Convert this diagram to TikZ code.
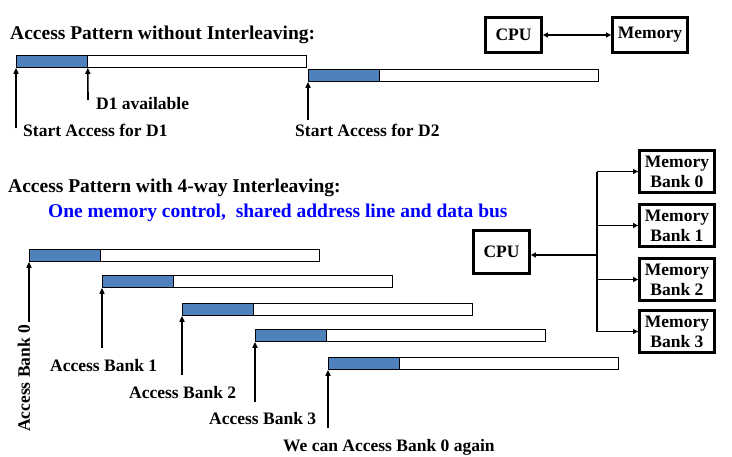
\documentclass[tikz,border=0pt]{standalone}
\usepackage{fontspec}
\setmainfont{Liberation Serif}
\usetikzlibrary{arrows.meta,positioning}
\definecolor{barblue}{RGB}{79,129,189}
\definecolor{subblue}{RGB}{0,0,255}

\tikzset{
  bar/.style={draw, line width=0.8pt, fill=white, inner sep=0pt,
    minimum width=290pt, minimum height=12pt, anchor=north west},
  busy/.style={draw, line width=0.8pt, fill=barblue, inner sep=0pt,
    minimum width=71pt, minimum height=12pt, anchor=north west},
  lbl/.style={inner sep=0pt, anchor=base west,
    font=\fontsize{17.5}{20}\selectfont\bfseries},
  head/.style={inner sep=0pt, anchor=base west,
    font=\fontsize{19.5}{22}\selectfont\bfseries},
  box/.style={draw, line width=2.8pt, inner sep=0pt, align=center,
    font=\fontsize{17.5}{20}\selectfont\bfseries},
  up/.style={-{Triangle[length=6pt,width=5pt]}, line width=1.6pt},
  link/.style={line width=1.4pt},
  tip/.style={-{Triangle[length=5pt,width=5pt]}},
}

\begin{document}
\begin{tikzpicture}[x=1pt,y=-1pt]
  \useasboundingbox (0,0) rectangle (732,456);

  % Without interleaving
  \node[head] (h1) at (10,39) {Access Pattern without Interleaving:};
  \node[bar] (a1) at (16,55) {};
  \node[busy] (ab1) at (a1.north west) {};
  \node[bar] (a2) at (308,69) {};
  \node[busy] (ab2) at (a2.north west) {};

  \coordinate (s1) at (16,128);
  \coordinate (s2) at (88,100);
  \coordinate (s3) at (308,120);
  \draw[up] (s1) -- (a1.south west);
  \draw[up] (s2) -- (ab1.south east);
  \draw[up] (s3) -- (a2.south west);
  \node[lbl] (l1) at (23,136) {Start Access for D1};
  \node[lbl] (l2) at (96,109) {D1 available};
  \node[lbl] (l3) at (295,136) {Start Access for D2};

  % Single memory
  \node[box, minimum width=56pt, minimum height=35pt] (cpu) at (513.5,35) {CPU};
  \node[box, minimum width=75pt, minimum height=35pt] (mem) at (650,35) {Memory};
  \draw[link, {Triangle[length=5pt,width=5pt]}-{Triangle[length=5pt,width=5pt]}]
    (cpu) -- (mem);

  % With 4-way interleaving
  \node[head] (h2) at (8,192) {Access Pattern with 4-way Interleaving:};
  \node[head, text=subblue] (h3) at (48,217)
    {One memory control,\ \ shared address line and data bus};

  \foreach \n/\x/\y/\s in {0/29/249/322, 1/102/275/348, 2/182/303/375,
                           3/255/329/402, 4/328/357/428} {
    \node[bar] (i\n) at (\x,\y) {};
    \node[busy] (ib\n) at (i\n.north west) {};
    \coordinate (t\n) at (\x,\s);
    \draw[up] (t\n) -- (i\n.south west);
  }

  \node[lbl, rotate=90] (k0) at (30,432) {Access Bank 0};
  \node[lbl] (k1) at (50,371) {Access Bank 1};
  \node[lbl] (k2) at (129,398) {Access Bank 2};
  \node[lbl] (k3) at (209,424) {Access Bank 3};
  \node[lbl] (k4) at (283,451) {We can Access Bank 0 again};

  % Banks
  \node[box, minimum width=56pt, minimum height=43pt] (cpu2) at (501.5,252) {CPU};
  \foreach \n/\y in {0/171.5, 1/225.5, 2/279.5, 3/331.5}
    \node[box, minimum width=75pt, minimum height=42pt] (m\n) at (677,\y)
      {Memory\\Bank \n};

  \coordinate (bus) at (597,255);
  \draw[link] (bus |- m0) -- (bus |- m3);
  \draw[link, tip] (bus) -- (bus -| cpu2.east);
  \foreach \n in {0,...,3}
    \draw[link, tip] (bus |- m\n) -- (m\n);
\end{tikzpicture}
\end{document}
